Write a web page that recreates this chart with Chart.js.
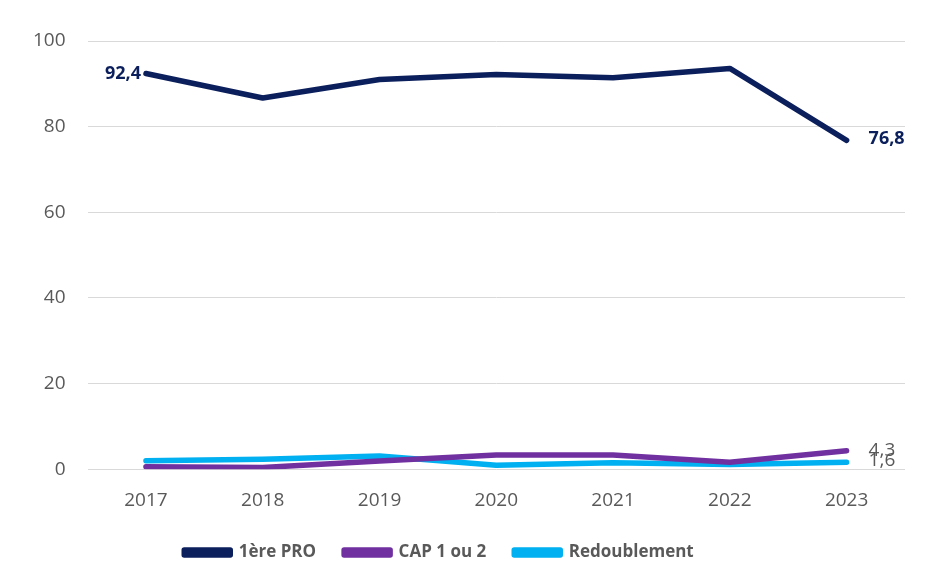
<!DOCTYPE html>
<html>
<head>
<meta charset="utf-8">
<script src="https://cdn.jsdelivr.net/npm/chart.js@4/dist/chart.umd.min.js"></script>
<style>
  html, body { margin: 0; padding: 0; background: #fff; }
  #wrap { width: 929px; height: 586px; position: relative; }
</style>
</head>
<body>
<div id="wrap"><canvas id="chart"></canvas></div>
<script>
const years = ["2017", "2018", "2019", "2020", "2021", "2022", "2023"];
const premierePro = [92.4, 86.7, 91.0, 92.2, 91.4, 93.6, 76.8];
const cap = [0.6, 0.4, 1.9, 3.3, 3.3, 1.6, 4.3];
const redoublement = [2.0, 2.3, 3.1, 0.9, 1.5, 1.1, 1.6];
const yTicks = [0, 20, 40, 60, 80, 100];

const FONT = "'Open Sans', 'Liberation Sans', sans-serif";
const GREY = "#595959";
const NAVY = "#0b1f5c";

// value labels, like excel data labels
const labelPlugin = {
  id: "valueLabels",
  afterDatasetsDraw(chart) {
    const ctx = chart.ctx;
    chart.data.datasets.forEach((ds, i) => {
      const meta = chart.getDatasetMeta(i);
      (ds.labels || []).forEach((l) => {
        const pt = meta.data[l.index];
        const txt = ds.data[l.index].toFixed(1).replace(".", ",");
        ctx.save();
        ctx.font = (l.bold ? "bold 18px " : "19px ") + FONT;
        ctx.fillStyle = l.color;
        ctx.textBaseline = "middle";
        if (l.side === "left") {
          ctx.textAlign = "right";
          ctx.fillText(txt, pt.x - 5, pt.y + (l.dy || 0));
        } else {
          ctx.textAlign = "left";
          ctx.fillText(txt, pt.x + 22, pt.y + (l.dy || 0));
        }
        ctx.restore();
      });
    });
  },
};

// legend sits a bit left of centre and closer to the axis in the original
const legendShift = {
  id: "legendShift",
  afterUpdate(chart) {
    chart.legend.left -= 19;
    chart.legend.right -= 19;
    chart.legend.top -= 8;
    chart.legend.bottom -= 8;
  },
};

const context = document.getElementById("chart");
new Chart(context, {
  type: "line",
  data: {
    labels: years,
    datasets: [
      {
        label: "1ère PRO",
        data: premierePro,
        borderColor: NAVY,
        backgroundColor: NAVY,
        labels: [
          { index: 0, side: "left", bold: true, color: NAVY, dy: 0 },
          { index: 6, side: "right", bold: true, color: NAVY, dy: -1 },
        ],
      },
      {
        label: "CAP 1 ou 2",
        data: cap,
        borderColor: "#7030a0",
        backgroundColor: "#7030a0",
        labels: [{ index: 6, side: "right", bold: false, color: GREY, dy: 0 }],
      },
      {
        label: "Redoublement",
        data: redoublement,
        borderColor: "#00b0f0",
        backgroundColor: "#00b0f0",
        labels: [{ index: 6, side: "right", bold: false, color: GREY, dy: -2 }],
      },
    ],
  },
  options: {
    responsive: true,
    maintainAspectRatio: false,
    animation: false,
    elements: {
      line: { borderWidth: 5.5, tension: 0, borderCapStyle: "round", borderJoinStyle: "round" },
      point: { radius: 0 },
    },
    layout: {
      padding: { top: 41, right: 24, left: 11, bottom: 7 },
    },
    scales: {
      x: {
        offset: true,
        grid: { display: false },
        border: { display: false },
        ticks: { color: GREY, padding: 12, font: { family: FONT, size: 19 } },
      },
      y: {
        min: 0,
        max: 100,
        afterBuildTicks: (axis) => {
          axis.ticks = yTicks.map((v) => ({ value: v }));
        },
        grid: { color: "#d9d9d9", lineWidth: 1, drawTicks: false },
        border: { display: false },
        ticks: { color: GREY, padding: 22, font: { family: FONT, size: 19 } },
      },
    },
    plugins: {
      legend: {
        position: "bottom",
        labels: {
          color: GREY,
          boxWidth: 46,
          boxHeight: 5,
          padding: 28,
          font: { family: FONT, size: 17, weight: "bold" },
        },
      },
      tooltip: { enabled: false },
    },
  },
  plugins: [labelPlugin, legendShift],
});
</script>
</body>
</html>
